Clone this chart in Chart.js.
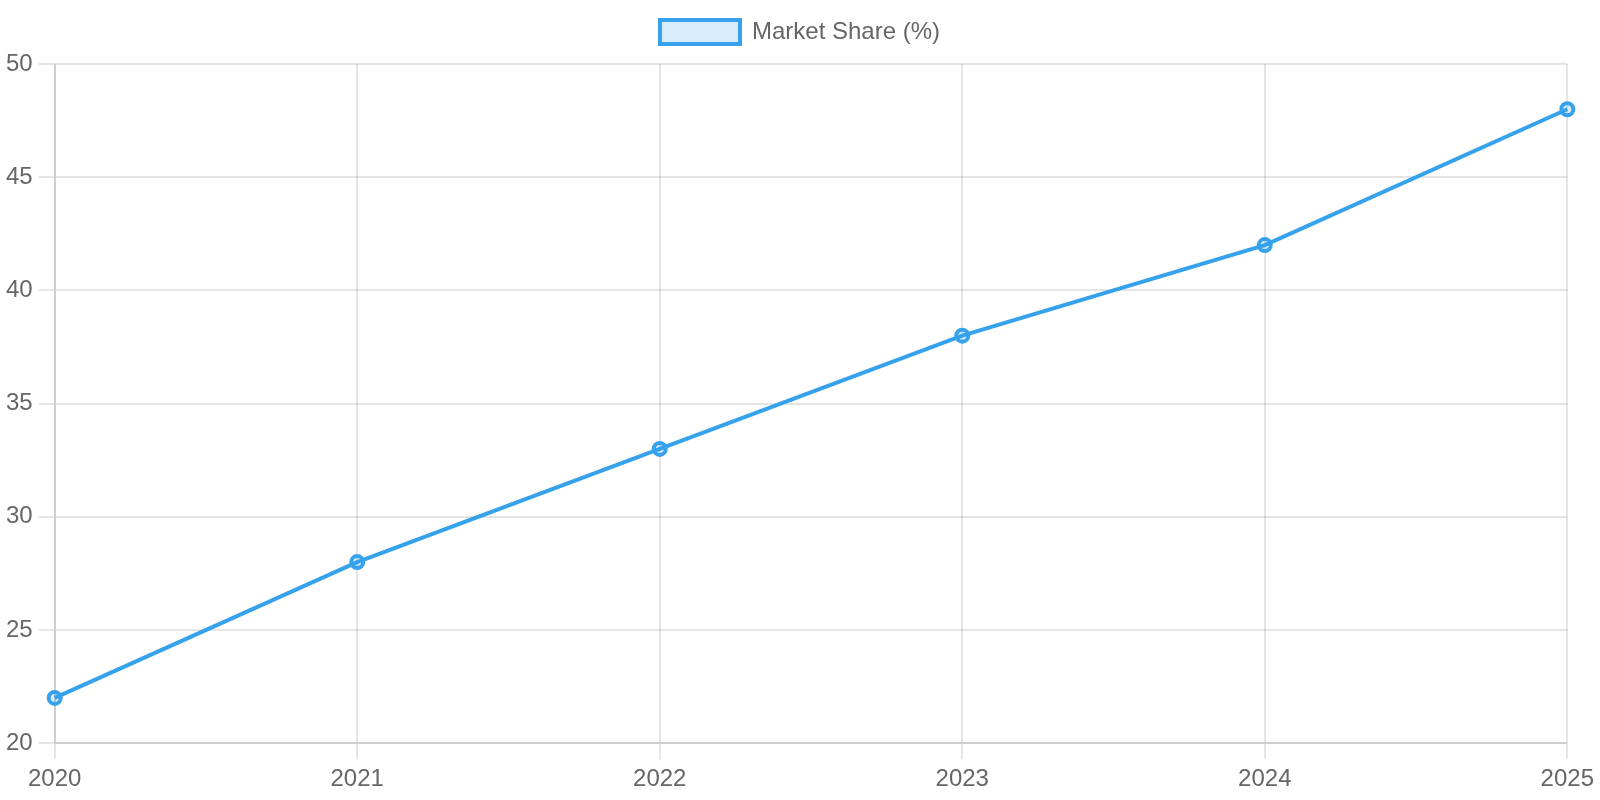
<!DOCTYPE html>
<html>
<head>
<meta charset="utf-8">
<script src="https://cdn.jsdelivr.net/npm/chart.js@4"></script>
<style>
  html, body { margin: 0; padding: 0; background: #fff; }
  #wrap { width: 1600px; height: 800px; position: relative; }
</style>
</head>
<body>
<div id="wrap"><canvas id="c"></canvas></div>
<script>
const years = ['2020', '2021', '2022', '2023', '2024', '2025'];
const marketShare = [22, 28, 33, 38, 42, 48];
const seriesLabel = 'Market Share (%)';

Chart.defaults.font.family = "'Liberation Sans', Arial, Helvetica, sans-serif";
Chart.defaults.font.size = 24;
Chart.defaults.color = '#666';

const legendGap = {
  id: 'legendGap',
  beforeInit(chart) {
    const origFit = chart.legend.fit;
    chart.legend.fit = function () {
      origFit.bind(chart.legend)();
      this.height += 10;
    };
  }
};

new Chart(document.getElementById('c'), {
  type: 'line',
  data: {
    labels: years,
    datasets: [{
      label: seriesLabel,
      data: marketShare,
      borderColor: '#36A2EB',
      backgroundColor: 'rgba(54,162,235,0.2)',
      borderWidth: 4,
      pointRadius: 6,
      pointBorderWidth: 4,
      tension: 0,
      fill: false
    }]
  },
  plugins: [legendGap],
  options: {
    responsive: true,
    maintainAspectRatio: false,
    animation: false,
    layout: { padding: 0 },
    plugins: {
      legend: {
        labels: { boxWidth: 80, boxHeight: 24, padding: 20, font: { size: 24 } }
      },
      tooltip: { enabled: false }
    },
    scales: {
      x: {
        grid: { lineWidth: 2, tickLength: 16 },
        border: { width: 2 },
        ticks: { padding: 6, font: { size: 24 } }
      },
      y: {
        min: 20,
        max: 50,
        grid: { lineWidth: 2, tickLength: 16 },
        border: { width: 2 },
        ticks: { stepSize: 5, padding: 6, font: { size: 24 } }
      }
    }
  }
});
</script>
</body>
</html>
